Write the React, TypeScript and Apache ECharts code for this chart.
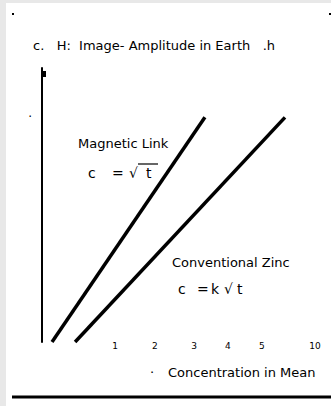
import React, { useEffect, useRef } from "react";
import * as echarts from "echarts";

const lineMagnetic: [number, number][] = [
  [0.36, 0],
  [5.86, 8.2],
];
const lineConventional: [number, number][] = [
  [1.19, 0],
  [8.74, 8.2],
];
const xTickValues = [2.63, 4.06, 5.47, 6.69, 7.91, 9.82];
const xTickLabels = ["1", "2", "3", "4", "5", "10"];
const yTickValues = [8.2];
const yTickLabels = ["·"];

const titleText = "c.   H:  Image- Amplitude in Earth   .h";
const xAxisTitle = "Concentration in Mean";
const label1 = "Magnetic Link";
const label2 = "Conventional Zinc";
const formula1Parts = ["c", "=", "√", "t"];
const formula2Parts = ["c", "=", "k", "√", "t"];

export default function App() {
  const ref = useRef<HTMLDivElement>(null);
  useEffect(() => {
    document.body.style.margin = "0";
    if (!ref.current) return;
    const chart = echarts.init(ref.current, undefined, { renderer: "svg" });
    const font = "'DejaVu Sans', sans-serif";
    const txt = (x: number, y: number, text: string, size: number) => ({
      type: "text",
      x,
      y,
      style: {
        text,
        fill: "#000",
        font: `${size}px ${font}`,
        textVerticalAlign: "middle",
      },
    });
    chart.setOption({
      animation: false,
      backgroundColor: "#e8e8e8",
      grid: { left: 42, right: 11, top: 68, bottom: 64, containLabel: false },
      xAxis: {
        type: "value",
        min: 0,
        max: 10,
        axisLine: { show: false },
        axisTick: { show: false },
        splitLine: { show: false },
        axisLabel: {
          customValues: xTickValues,
          formatter: (v: number) => {
            const i = xTickValues.findIndex((t) => Math.abs(t - v) < 1e-6);
            return i >= 0 ? xTickLabels[i] : "";
          },
          color: "#000",
          fontSize: 9,
          fontFamily: font,
          margin: -1,
        },
      },
      yAxis: {
        type: "value",
        min: 0,
        max: 10,
        axisLine: { show: true, lineStyle: { color: "#000", width: 2 } },
        axisTick: { show: false },
        splitLine: { show: false },
        axisLabel: {
          customValues: yTickValues,
          formatter: (v: number) => {
            const i = yTickValues.findIndex((t) => Math.abs(t - v) < 1e-6);
            return i >= 0 ? yTickLabels[i] : "";
          },
          color: "#000",
          fontSize: 12,
          fontFamily: font,
          margin: 10,
        },
      },
      series: [
        {
          type: "line",
          data: lineMagnetic,
          symbol: "none",
          lineStyle: { color: "#000", width: 3.5 },
          z: 3,
        },
        {
          type: "line",
          data: lineConventional,
          symbol: "none",
          lineStyle: { color: "#000", width: 3.5 },
          z: 3,
        },
      ],
      graphic: [
        {
          type: "rect",
          z: -10,
          shape: { x: 6, y: 3, width: 325, height: 403 },
          style: { fill: "#ffffff" },
        },
        { type: "rect", shape: { x: 12, y: 13, width: 2, height: 2 }, style: { fill: "#000" } },
        { type: "rect", shape: { x: 329, y: 13, width: 2, height: 2 }, style: { fill: "#000" } },
        { type: "rect", shape: { x: 42, y: 71, width: 4, height: 6 }, style: { fill: "#000" } },
        txt(33, 45, titleText, 13),
        txt(78, 143, label1, 13),
        txt(88, 173, formula1Parts[0], 14),
        txt(112, 173, formula1Parts[1], 14),
        txt(129, 173, formula1Parts[2], 14),
        txt(146, 173, formula1Parts[3], 14),
        {
          type: "line",
          shape: { x1: 138, y1: 164, x2: 158, y2: 164 },
          style: { stroke: "#000", lineWidth: 1.2 },
        },
        txt(172, 262, label2, 13),
        txt(178, 289, formula2Parts[0], 14),
        txt(197, 289, formula2Parts[1], 14),
        txt(211, 289, formula2Parts[2], 14),
        txt(224, 289, formula2Parts[3], 14),
        txt(237, 289, formula2Parts[4], 14),
        txt(150, 372, "·", 13),
        txt(168, 372, xAxisTitle, 13),
        {
          type: "line",
          shape: { x1: 12, y1: 397, x2: 331, y2: 397 },
          style: { stroke: "#000", lineWidth: 3 },
        },
      ],
    });
    return () => chart.dispose();
  }, []);
  return <div ref={ref} style={{ width: 331, height: 406 }} />;
}
